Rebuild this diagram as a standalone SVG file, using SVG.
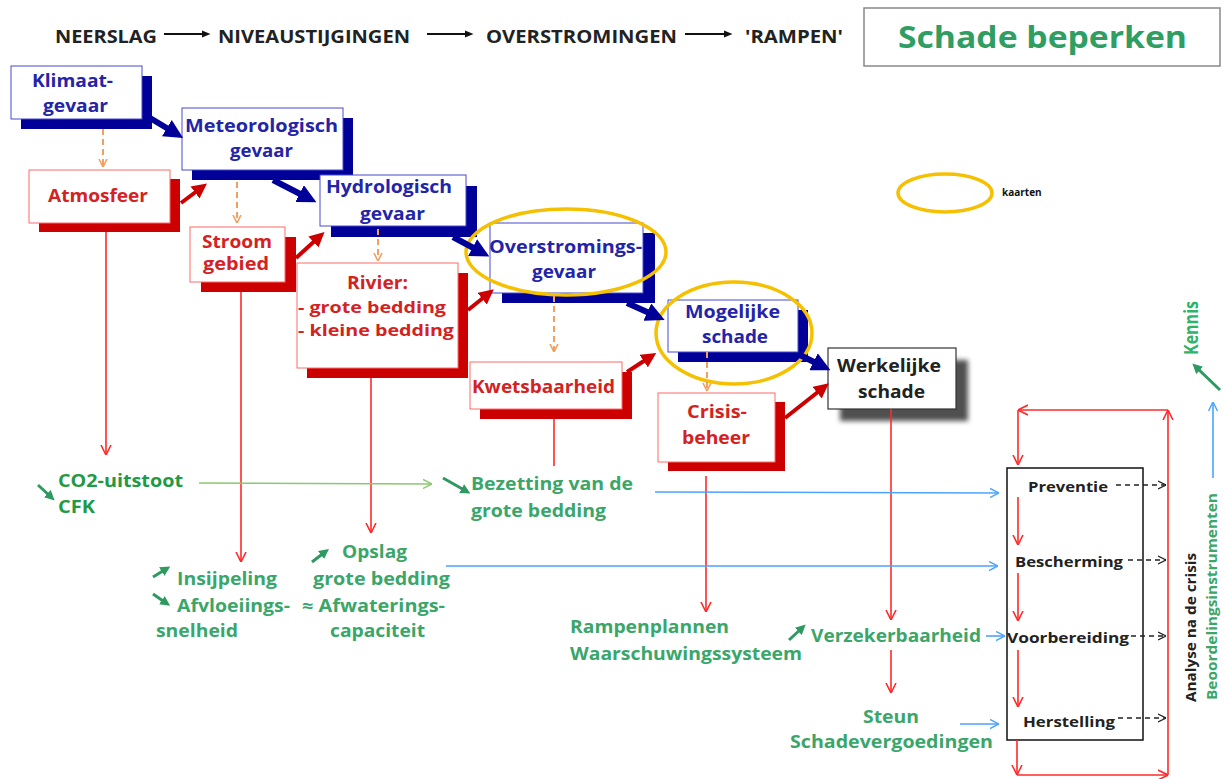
<svg xmlns="http://www.w3.org/2000/svg" width="1225" height="779" viewBox="0 0 1225 779">
<style>
text{font-family:"Open Sans","Liberation Sans",sans-serif;font-weight:bold}
.top{font-size:18px;fill:#222}
.bt{font-size:18px;fill:#2424a8}
.rt{font-size:18px;fill:#d42222}
.rs{font-size:16px;fill:#d42222}
.kt{font-size:18px;fill:#222}
.g1{font-size:17px;fill:#1f9a45}
.g2{font-size:17px;fill:#3aa66a}
.bx{font-size:14px;fill:#222}
.bbox{fill:#fff;stroke:#4848d0;stroke-width:1}
.bsh{fill:#000099}
.rbox{fill:#fff;stroke:#ff6a6a;stroke-width:1}
.rsh{fill:#cc0000}
.thickb{stroke:#000099;stroke-width:6;fill:none}
.thickr{stroke:#cc0000;stroke-width:4;fill:none}
.orng{stroke:#f2a060;stroke-width:2;stroke-dasharray:6,4;fill:none}
.redl{stroke:#ff2a2a;stroke-width:1.6;fill:none}
.bluel{stroke:#4da3ff;stroke-width:1.6;fill:none}
.grnl{stroke:#8cc870;stroke-width:1.6;fill:none}
.dash{stroke:#222;stroke-width:1.5;stroke-dasharray:5,4;fill:none}
.garr{stroke:#2e9960;stroke-width:3;fill:none}
.ell{fill:none;stroke:#f5c000;stroke-width:3.5}
</style>
<defs>
<marker id="mB" viewBox="0 0 10 10" refX="5" refY="5" markerUnits="userSpaceOnUse" markerWidth="19" markerHeight="19" orient="auto"><path d="M0,0 L10,5 L0,10 z" fill="#000099"/></marker>
<marker id="mR" viewBox="0 0 10 10" refX="5" refY="5" markerUnits="userSpaceOnUse" markerWidth="15" markerHeight="15" orient="auto"><path d="M0,0 L10,5 L0,10 z" fill="#cc0000"/></marker>
<marker id="mG" viewBox="0 0 10 10" refX="5" refY="5" markerUnits="userSpaceOnUse" markerWidth="10" markerHeight="10" orient="auto"><path d="M0,0 L10,5 L0,10 z" fill="#2e9960"/></marker>
<marker id="mK" viewBox="0 0 10 10" refX="5" refY="5" markerUnits="userSpaceOnUse" markerWidth="9" markerHeight="9" orient="auto"><path d="M0,1 L10,5 L0,9 z" fill="#111"/></marker>
<marker id="oR" viewBox="0 0 10 10" refX="10" refY="5" markerUnits="userSpaceOnUse" markerWidth="10" markerHeight="12" orient="auto"><path d="M0,0 L10,5 L0,10" fill="none" stroke="#ff2a2a" stroke-width="1.6"/></marker>
<marker id="oBl" viewBox="0 0 10 10" refX="10" refY="5" markerUnits="userSpaceOnUse" markerWidth="9" markerHeight="11" orient="auto"><path d="M0,0 L10,5 L0,10" fill="none" stroke="#4da3ff" stroke-width="1.6"/></marker>
<marker id="oGr" viewBox="0 0 10 10" refX="10" refY="5" markerUnits="userSpaceOnUse" markerWidth="9" markerHeight="11" orient="auto"><path d="M0,0 L10,5 L0,10" fill="none" stroke="#8cc870" stroke-width="1.6"/></marker>
<marker id="oK" viewBox="0 0 10 10" refX="10" refY="5" markerUnits="userSpaceOnUse" markerWidth="8" markerHeight="10" orient="auto"><path d="M0,0 L10,5 L0,10" fill="none" stroke="#222" stroke-width="1.6"/></marker>
<marker id="oO" viewBox="0 0 10 10" refX="10" refY="5" markerUnits="userSpaceOnUse" markerWidth="8" markerHeight="10" orient="auto"><path d="M0,0 L10,5 L0,10" fill="none" stroke="#f2a060" stroke-width="2"/></marker>
<filter id="blur" x="-20%" y="-20%" width="140%" height="140%"><feGaussianBlur stdDeviation="2.5"/></filter>
</defs>

<!-- top line -->
<g id="header">
<text class="top" x="55" y="43" textLength="102" lengthAdjust="spacingAndGlyphs">NEERSLAG</text>
<text class="top" x="218" y="43" textLength="192" lengthAdjust="spacingAndGlyphs">NIVEAUSTIJGINGEN</text>
<text class="top" x="486" y="43" textLength="191" lengthAdjust="spacingAndGlyphs">OVERSTROMINGEN</text>
<text class="top" x="745" y="43" textLength="98" lengthAdjust="spacingAndGlyphs">'RAMPEN'</text>
</g>
<g id="title">
<rect x="864" y="8" width="356" height="58" fill="#fff" stroke="#888" stroke-width="1.5"/>
<text x="898" y="48" font-size="31" fill="#2e9e63" textLength="289" lengthAdjust="spacingAndGlyphs">Schade beperken</text>
</g>

<!-- legend -->
<g id="legend">
<ellipse class="ell" cx="945" cy="193" rx="47" ry="19"/>
<text x="1002" y="196" font-size="10" fill="#111" font-weight="normal">kaarten</text>
</g>

<!-- nodes -->
<g id="klimaat">
<rect class="bsh" x="21" y="76" width="131" height="53"/>
<rect class="bbox" x="11" y="66" width="131" height="53"/>
<text class="bt" x="32" y="87" textLength="81" lengthAdjust="spacingAndGlyphs">Klimaat-</text>
<text class="bt" x="43" y="112" textLength="65" lengthAdjust="spacingAndGlyphs">gevaar</text>
</g>
<g id="meteorologisch">
<rect class="bsh" x="192" y="118" width="161" height="62"/>
<rect class="bbox" x="182" y="108" width="161" height="62"/>
<text class="bt" x="185" y="132" textLength="153" lengthAdjust="spacingAndGlyphs">Meteorologisch</text>
<text class="bt" x="230" y="157" textLength="63" lengthAdjust="spacingAndGlyphs">gevaar</text>
</g>
<g id="hydrologisch">
<rect class="bsh" x="331" y="186" width="146" height="51"/>
<rect class="bbox" x="320" y="175" width="146" height="51"/>
<text class="bt" x="326" y="193" textLength="126" lengthAdjust="spacingAndGlyphs">Hydrologisch</text>
<text class="bt" x="360" y="220" textLength="65" lengthAdjust="spacingAndGlyphs">gevaar</text>
</g>
<g id="overstromings">
<rect class="bsh" x="502" y="233" width="153" height="70"/>
<rect class="bbox" x="490" y="223" width="153" height="70"/>
<text class="bt" x="489" y="253" textLength="153" lengthAdjust="spacingAndGlyphs">Overstromings-</text>
<text class="bt" x="532" y="278" textLength="64" lengthAdjust="spacingAndGlyphs">gevaar</text>
</g>
<g id="mogelijke">
<rect class="bsh" x="678" y="310" width="130" height="52"/>
<rect class="bbox" x="668" y="300" width="130" height="52"/>
<text class="bt" x="685" y="318" textLength="95" lengthAdjust="spacingAndGlyphs">Mogelijke</text>
<text class="bt" x="702" y="343" textLength="66" lengthAdjust="spacingAndGlyphs">schade</text>
</g>
<g id="werkelijke">
<rect x="840" y="360" width="128" height="61" fill="#333" opacity="0.85" filter="url(#blur)"/>
<rect x="828" y="348" width="128" height="61" fill="#fff" stroke="#333" stroke-width="1.2"/>
<text class="kt" x="837" y="372" textLength="104" lengthAdjust="spacingAndGlyphs">Werkelijke</text>
<text class="kt" x="858" y="398" textLength="67" lengthAdjust="spacingAndGlyphs">schade</text>
</g>
<g id="atmosfeer">
<rect class="rsh" x="39" y="179" width="141" height="53"/>
<rect class="rbox" x="29" y="170" width="141" height="53"/>
<text class="rt" x="48" y="202" textLength="100" lengthAdjust="spacingAndGlyphs">Atmosfeer</text>
</g>
<g id="stroomgebied">
<rect class="rsh" x="201" y="237" width="95" height="55"/>
<rect class="rbox" x="190" y="227" width="95" height="55"/>
<text class="rt" x="202" y="248" textLength="70" lengthAdjust="spacingAndGlyphs">Stroom</text>
<text class="rt" x="203" y="270" textLength="66" lengthAdjust="spacingAndGlyphs">gebied</text>
</g>
<g id="rivier">
<rect class="rsh" x="307" y="273" width="161" height="105"/>
<rect class="rbox" x="297" y="263" width="161" height="105"/>
<text class="rt" x="347" y="289" textLength="61" lengthAdjust="spacingAndGlyphs">Rivier:</text>
<text class="rs" x="298" y="313" textLength="148" lengthAdjust="spacingAndGlyphs">- grote bedding</text>
<text class="rs" x="298" y="336" textLength="156" lengthAdjust="spacingAndGlyphs">- kleine bedding</text>
</g>
<g id="kwetsbaarheid">
<rect class="rsh" x="480" y="372" width="152" height="47"/>
<rect class="rbox" x="470" y="362" width="152" height="47"/>
<text class="rt" x="472" y="393" textLength="143" lengthAdjust="spacingAndGlyphs">Kwetsbaarheid</text>
</g>
<g id="crisisbeheer">
<rect class="rsh" x="668" y="402" width="117" height="69"/>
<rect class="rbox" x="658" y="393" width="117" height="69"/>
<text class="rt" x="687" y="418" textLength="60" lengthAdjust="spacingAndGlyphs">Crisis-</text>
<text class="rt" x="682" y="444" textLength="68" lengthAdjust="spacingAndGlyphs">beheer</text>
</g>

<g id="highlights">
<ellipse class="ell" cx="566" cy="252" rx="100" ry="43"/>
<ellipse class="ell" cx="734" cy="333" rx="78" ry="51"/>
</g>

<!-- lower texts -->
<g id="co2">
<text class="g1" x="58" y="487" textLength="125" lengthAdjust="spacingAndGlyphs">CO2-uitstoot</text>
<text class="g1" x="58" y="513" textLength="37" lengthAdjust="spacingAndGlyphs">CFK</text>
</g>
<g id="bezetting">
<text class="g2" x="471" y="490" textLength="162" lengthAdjust="spacingAndGlyphs">Bezetting van de</text>
<text class="g2" x="471" y="517" textLength="135" lengthAdjust="spacingAndGlyphs">grote bedding</text>
</g>
<g id="insijpeling">
<text class="g2" x="177" y="585" textLength="100" lengthAdjust="spacingAndGlyphs">Insijpeling</text>
<text class="g2" x="177" y="612" textLength="113" lengthAdjust="spacingAndGlyphs">Afvloeiings-</text>
<text class="g2" x="156" y="637" textLength="82" lengthAdjust="spacingAndGlyphs">snelheid</text>
</g>
<g id="opslag">
<text class="g2" x="342" y="558" textLength="65" lengthAdjust="spacingAndGlyphs">Opslag</text>
<text class="g2" x="313" y="585" textLength="137" lengthAdjust="spacingAndGlyphs">grote bedding</text>
<text class="g2" x="302" y="612" textLength="143" lengthAdjust="spacingAndGlyphs">≈ Afwaterings-</text>
<text class="g2" x="330" y="637" textLength="95" lengthAdjust="spacingAndGlyphs">capaciteit</text>
</g>
<g id="rampenplannen">
<text class="g2" x="570" y="633" textLength="159" lengthAdjust="spacingAndGlyphs">Rampenplannen</text>
<text class="g2" x="570" y="660" textLength="232" lengthAdjust="spacingAndGlyphs">Waarschuwingssysteem</text>
</g>
<g id="verzekerbaarheid">
<text class="g2" x="811" y="642" textLength="170" lengthAdjust="spacingAndGlyphs">Verzekerbaarheid</text>
</g>
<g id="steun">
<text class="g2" x="863" y="723" textLength="56" lengthAdjust="spacingAndGlyphs">Steun</text>
<text class="g2" x="790" y="748" textLength="203" lengthAdjust="spacingAndGlyphs">Schadevergoedingen</text>
</g>
<g id="fasen">
<rect x="1007" y="468" width="136" height="272" fill="none" stroke="#111" stroke-width="1.5"/>
<text class="bx" x="1028" y="492" textLength="80" lengthAdjust="spacingAndGlyphs">Preventie</text>
<text class="bx" x="1015" y="567" textLength="108" lengthAdjust="spacingAndGlyphs">Bescherming</text>
<text class="bx" x="1007" y="643" textLength="122" lengthAdjust="spacingAndGlyphs">Voorbereiding</text>
<text class="bx" x="1023" y="727" textLength="92" lengthAdjust="spacingAndGlyphs">Herstelling</text>
</g>
<g id="analyse">
<text class="bx" transform="translate(1196,702) rotate(-90)" x="0" y="0" textLength="149" lengthAdjust="spacingAndGlyphs">Analyse na de crisis</text>
</g>
<g id="beoordeling">
<text transform="translate(1217,700) rotate(-90)" x="0" y="0" font-size="14" fill="#3aa66a" textLength="207" lengthAdjust="spacingAndGlyphs">Beoordelingsinstrumenten</text>
</g>
<g id="kennis">
<text transform="translate(1198,355) rotate(-90)" x="0" y="0" font-size="20" fill="#2db36a" textLength="54" lengthAdjust="spacingAndGlyphs">Kennis</text>
</g>

<!-- connectors -->
<g id="connectors">
<line x1="164" y1="34" x2="206" y2="34" stroke="#111" stroke-width="2" marker-end="url(#mK)"/>
<line x1="427" y1="34" x2="469" y2="34" stroke="#111" stroke-width="2" marker-end="url(#mK)"/>
<line x1="685" y1="34" x2="728" y2="34" stroke="#111" stroke-width="2" marker-end="url(#mK)"/>

<line class="thickb" x1="150" y1="118" x2="175" y2="133" marker-end="url(#mB)"/>
<line class="thickb" x1="273" y1="180" x2="308" y2="198" marker-end="url(#mB)"/>
<line class="thickb" x1="453" y1="237" x2="481" y2="252" marker-end="url(#mB)"/>
<line class="thickb" x1="627" y1="303" x2="656" y2="316" marker-end="url(#mB)"/>
<line class="thickb" x1="800" y1="355" x2="822" y2="366" marker-end="url(#mB)"/>

<line class="thickr" x1="181" y1="203" x2="201" y2="188" marker-end="url(#mR)"/>
<line class="thickr" x1="296" y1="258" x2="319" y2="237" marker-end="url(#mR)"/>
<line class="thickr" x1="468" y1="310" x2="488" y2="294" marker-end="url(#mR)"/>
<line class="thickr" x1="627" y1="372" x2="650" y2="357" marker-end="url(#mR)"/>
<line class="thickr" x1="785" y1="418" x2="823" y2="388" marker-end="url(#mR)"/>

<line class="orng" x1="103" y1="129" x2="103" y2="167" marker-end="url(#oO)"/>
<line class="orng" x1="237" y1="182" x2="237" y2="223" marker-end="url(#oO)"/>
<line class="orng" x1="378" y1="229" x2="378" y2="261" marker-end="url(#oO)"/>
<line class="orng" x1="554" y1="296" x2="554" y2="352" marker-end="url(#oO)"/>
<line class="orng" x1="707" y1="352" x2="707" y2="391" marker-end="url(#oO)"/>

<line class="redl" x1="106" y1="232" x2="106" y2="455" marker-end="url(#oR)"/>
<line class="redl" x1="241" y1="292" x2="241" y2="562" marker-end="url(#oR)"/>
<line class="redl" x1="371" y1="378" x2="371" y2="533" marker-end="url(#oR)"/>
<line class="redl" x1="554" y1="419" x2="554" y2="466"/>
<line class="redl" x1="706" y1="476" x2="706" y2="612" marker-end="url(#oR)"/>
<line class="redl" x1="891" y1="409" x2="891" y2="620" marker-end="url(#oR)"/>
<line class="redl" x1="891" y1="650" x2="891" y2="693" marker-end="url(#oR)"/>

<line class="grnl" x1="199" y1="483" x2="432" y2="484" marker-end="url(#oGr)"/>
<line class="bluel" x1="655" y1="492" x2="999" y2="493" marker-end="url(#oBl)"/>
<line class="bluel" x1="446" y1="566" x2="998" y2="566" marker-end="url(#oBl)"/>
<line class="bluel" x1="986" y1="636" x2="1005" y2="636" marker-end="url(#oBl)"/>
<line class="bluel" x1="960" y1="724" x2="999" y2="724" marker-end="url(#oBl)"/>
<line class="bluel" x1="1213" y1="478" x2="1213" y2="402" marker-end="url(#oBl)"/>

<line class="garr" x1="38" y1="485" x2="51" y2="497" marker-end="url(#mG)"/>
<line class="garr" x1="443" y1="478" x2="466" y2="491" marker-end="url(#mG)"/>
<line class="garr" x1="312" y1="562" x2="325" y2="552" marker-end="url(#mG)"/>
<line class="garr" x1="153" y1="577" x2="166" y2="569" marker-end="url(#mG)"/>
<line class="garr" x1="153" y1="594" x2="166" y2="603" marker-end="url(#mG)"/>
<line class="garr" x1="789" y1="640" x2="802" y2="628" marker-end="url(#mG)"/>
<line class="garr" x1="1220" y1="390" x2="1196" y2="367" marker-end="url(#mG)"/>

<line class="redl" x1="1018" y1="497" x2="1018" y2="545" marker-end="url(#oR)"/>
<line class="redl" x1="1018" y1="573" x2="1018" y2="621" marker-end="url(#oR)"/>
<line class="redl" x1="1018" y1="650" x2="1018" y2="707" marker-end="url(#oR)"/>

<line class="redl" x1="1017" y1="740" x2="1017" y2="775" marker-end="url(#oR)"/>
<line class="redl" x1="1017" y1="775" x2="1168" y2="775" marker-end="url(#oR)"/>
<line class="redl" x1="1168" y1="775" x2="1168" y2="410" marker-end="url(#oR)"/>
<line class="redl" x1="1168" y1="410" x2="1018" y2="410" marker-end="url(#oR)"/>
<line class="redl" x1="1018" y1="410" x2="1018" y2="465" marker-end="url(#oR)"/>

<line class="dash" x1="1116" y1="485" x2="1166" y2="485" marker-end="url(#oK)"/>
<line class="dash" x1="1128" y1="560" x2="1166" y2="560" marker-end="url(#oK)"/>
<line class="dash" x1="1131" y1="636" x2="1166" y2="636" marker-end="url(#oK)"/>
<line class="dash" x1="1118" y1="718" x2="1166" y2="718" marker-end="url(#oK)"/>
</g>
</svg>
